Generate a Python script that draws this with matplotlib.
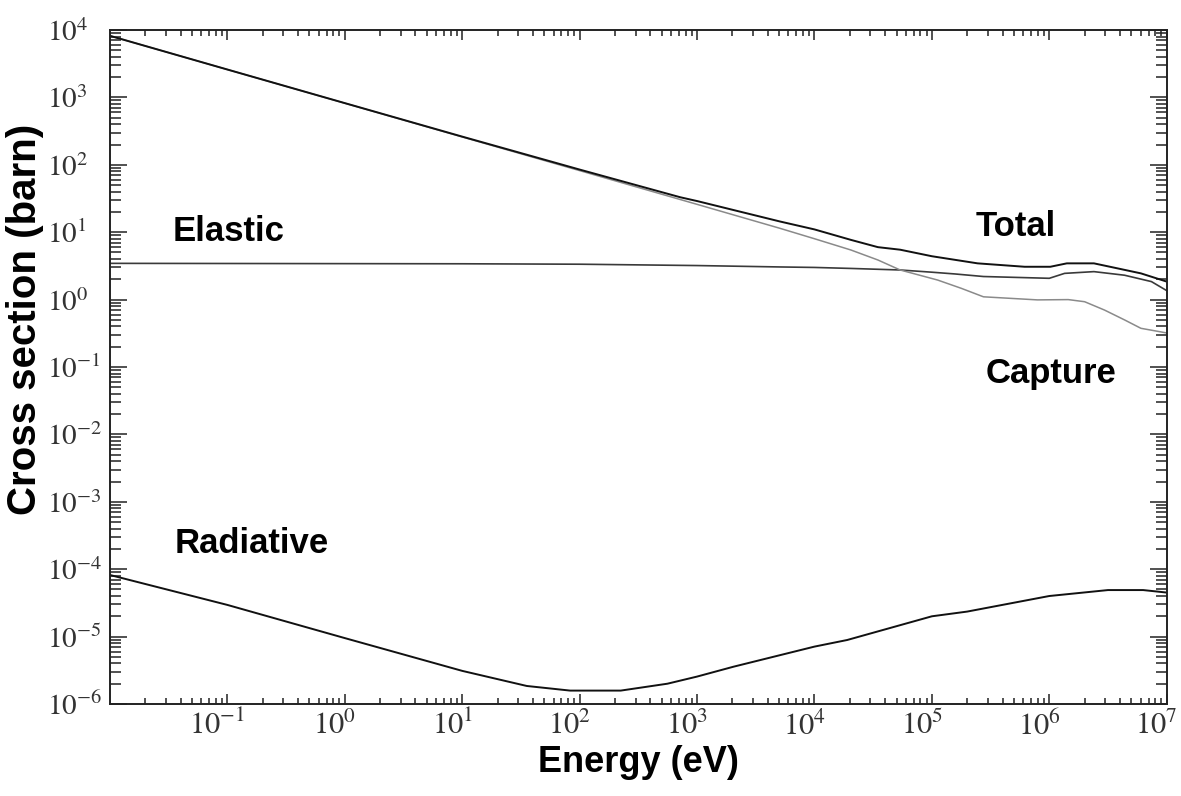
import math
import matplotlib
matplotlib.use("Agg")
import matplotlib.pyplot as plt
from matplotlib.ticker import LogLocator, FuncFormatter, NullFormatter
from matplotlib.transforms import ScaledTranslation

plt.rcParams['font.family'] = ['Liberation Sans', 'DejaVu Sans']
plt.rcParams['mathtext.fontset'] = 'stix'

# Capture cross section (barn), light grey curve, 1/v at low energy
e_capture = [1e-2, 1e-1, 1e0, 1e1, 1e2, 1e3, 5.1e3, 1e4, 2.04e4, 3.47e4,
             5.37e4, 1.12e5, 1.78e5, 2.75e5, 7.94e5, 1.45e6, 2.0e6,
             2.95e6, 4.37e6, 6.03e6, 1e7]
capture = [8200, 2590, 820, 259, 82, 25.9, 11.4, 8.0, 5.45, 3.87,
           2.75, 1.95, 1.47, 1.10, 0.99, 1.0, 0.93,
           0.70, 0.50, 0.375, 0.32]

# Elastic cross section (barn)
e_elastic = [1e-2, 1e1, 1e2, 1e3, 5.1e3, 1e4, 2.04e4, 5.37e4, 1e5, 1.58e5,
             2.75e5, 1e6, 1.35e6, 2.4e6, 4.37e6, 7.41e6, 1e7]
elastic = [3.45, 3.4, 3.35, 3.2, 3.05, 3.0, 2.9, 2.75, 2.55, 2.4,
           2.2, 2.07, 2.45, 2.6, 2.3, 1.85, 1.36]

# Total cross section (barn)
e_total = [1e-2, 1e-1, 1e0, 1e1, 1e2, 7.2e2, 1e3, 5.1e3, 1e4, 2.04e4,
           3.47e4, 5.37e4, 1e5, 2.45e5, 6.17e5, 1.02e6, 1.41e6, 2.4e6,
           3.8e6, 6.03e6, 1e7]
total = [8200, 2593, 823, 262, 85, 33, 29, 14.4, 11.0, 7.7,
         6.0, 5.5, 4.4, 3.45, 3.07, 3.07, 3.45, 3.45,
         2.91, 2.45, 1.85]

# Radiative (n, gamma) cross section (barn)
e_rad = [1e-2, 1e-1, 1e0, 1e1, 3.55e1, 8.3e1, 2.24e2, 5.6e2, 1e3, 2.04e3,
         1e4, 1.9e4, 1e5, 2e5, 1e6, 3.16e6, 6.3e6, 1e7]
radiative = [8.2e-5, 2.95e-5, 9.5e-6, 3.1e-6, 1.85e-6, 1.58e-6, 1.58e-6,
             2.0e-6, 2.55e-6, 3.57e-6, 7.1e-6, 8.9e-6, 2.0e-5, 2.35e-5,
             4.0e-5, 4.9e-5, 4.9e-5, 4.5e-5]

fig = plt.figure(figsize=(11.81, 7.96), dpi=100)
ax = fig.add_axes([0.0931, 0.1156, 0.8948, 0.8467])

ax.plot(e_elastic, elastic, color='#3a3a3a', lw=1.2)
ax.plot(e_capture, capture, color='#8a8a8a', lw=1.1)
ax.plot(e_total, total, color='#111111', lw=1.4)
ax.plot(e_rad, radiative, color='#111111', lw=1.4)

ax.set_xscale('log')
ax.set_yscale('log')
ax.set_xlim(1e-2, 1e7)
ax.set_ylim(1e-6, 1e4)

ax.set_xticks([10.0**k for k in range(-1, 8)])
ax.set_yticks([10.0**k for k in range(-6, 5)])
ax.xaxis.set_minor_locator(LogLocator(base=10, subs=range(2, 10), numticks=20))
ax.yaxis.set_minor_locator(LogLocator(base=10, subs=range(2, 10), numticks=20))
ax.xaxis.set_minor_formatter(NullFormatter())
ax.yaxis.set_minor_formatter(NullFormatter())

fmt = FuncFormatter(lambda v, pos: r'$10^{%d}$' % round(math.log10(v)))
ax.xaxis.set_major_formatter(fmt)
ax.yaxis.set_major_formatter(fmt)

ax.tick_params(which='both', direction='in', top=True, right=True,
               colors='#222222', width=1.1, labelsize=22, labelcolor='#333333')
ax.tick_params(axis='x', which='major', length=7, pad=5)
ax.tick_params(axis='x', which='minor', length=4)
ax.tick_params(axis='y', which='major', length=12, pad=45, labelsize=21)
ax.tick_params(axis='y', which='minor', length=8)

# x labels sit a little left of their tick, y labels are left aligned
shift = ScaledTranslation(-10 / 100, 0, fig.dpi_scale_trans)
for lb in ax.get_xticklabels():
    lb.set_transform(lb.get_transform() + shift)
for lb in ax.get_yticklabels():
    lb.set_horizontalalignment('left')

for s in ax.spines.values():
    s.set_linewidth(1.4)
    s.set_color('#222222')

ax.set_xlabel('Energy (eV)', fontsize=26, fontweight='bold', labelpad=2)
ax.set_ylabel('Cross section (barn)', fontsize=29, fontweight='bold')
ax.yaxis.set_label_coords(-0.0625, 0.571)

lab = dict(fontsize=25, fontweight='bold', va='baseline', ha='left')
ax.text(0.0344, 7.4, 'Elastic', **lab)
ax.text(2.37e5, 8.8, 'Total', **lab)
ax.text(2.88e5, 0.058, 'Capture', **lab)
ax.text(0.0358, 1.74e-4, 'Radiative', **lab)

fig.savefig('out.png', dpi=100)
